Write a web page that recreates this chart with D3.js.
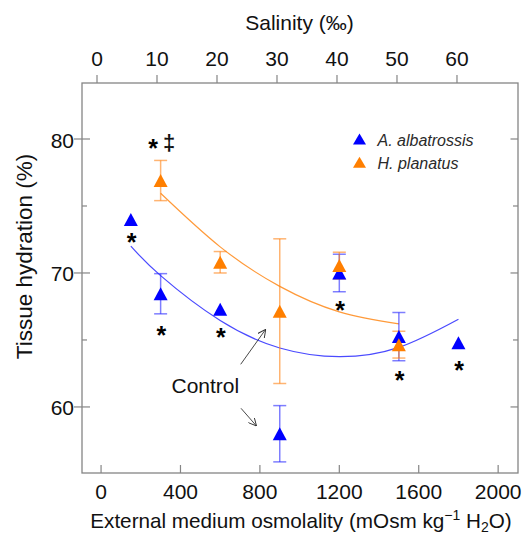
<!DOCTYPE html>
<html><head><meta charset="utf-8">
<script src="https://cdn.jsdelivr.net/npm/d3@7"></script>
<style>body{margin:0;background:#fff}svg{display:block}text{font-family:"Liberation Sans",Arial,sans-serif}</style>
</head><body><svg id="c" width="530" height="533"></svg>
<script>
// ---- data ----
const osmo = [150, 300, 600, 900, 1200, 1500, 1800];
const albMean = [74.0, 68.45, 67.3, 58.0, 70.0, 65.25, 64.8];
const albErr  = [0, 1.5, 0, 2.1, 1.4, 1.8, 0];
const planOsmo = [300, 600, 900, 1200, 1500];
const planMean = [76.9, 70.8, 67.15, 70.55, 64.65];
const planErr  = [1.5, 0.8, 5.4, 1.0, 1.0];
// fitted curves
const albFitX = [150, 300, 600, 900, 1200, 1500, 1800];
const albFitY = [72.0, 69.8, 66.45, 64.4, 63.75, 64.45, 66.55];
const planFitX = [300, 600, 900, 1200, 1500];
const planFitY = [75.95, 71.95, 69.0, 67.1, 66.2];
// significance marks (below blue points)
const albStars = [true, true, true, false, true, true, true];
const xTicks = [0, 400, 800, 1200, 1600, 2000];
const salTicks = [0, 10, 20, 30, 40, 50, 60];
const yMajor = [60, 70, 80];
const yMinor = [65, 75];
const seriesNames = ["A. albatrossis", "H. planatus"];
const colors = ["#0000ff", "#ff7f00"];
const errColors = ["rgba(40,40,255,0.6)", "rgba(255,130,20,0.6)"];
const fitColors = ["#4a4aff", "#ff9a3a"];

// ---- layout ----
const L = 82, R = 518, T = 83, B = 473;
const x = d3.scaleLinear().domain([-96, 2100]).range([L, R]);
const xs = d3.scaleLinear().domain([-2.5, 70.17]).range([L, R]);
const y = d3.scaleLinear().domain([55.07, 84.18]).range([B, T]);
const svg = d3.select("#c");
const axisCol = "#858585";
const fs = 21;

// frame
svg.append("rect").attr("x", L).attr("y", T).attr("width", R - L).attr("height", B - T)
  .attr("fill", "none").attr("stroke", axisCol).attr("stroke-width", 1.3);

// bottom axis ticks (inward)
const gx = svg.append("g");
xTicks.forEach(t => {
  gx.append("line").attr("x1", x(t)).attr("x2", x(t)).attr("y1", B).attr("y2", B - 8).attr("stroke", axisCol).attr("stroke-width", 1.2);
  gx.append("text").attr("x", x(t)).attr("y", 498.5).attr("text-anchor", "middle").attr("font-size", fs).attr("fill", "#111").text(t);
});
// top axis (salinity), ticks outward
salTicks.forEach(t => {
  svg.append("line").attr("x1", xs(t)).attr("x2", xs(t)).attr("y1", T).attr("y2", T - 8).attr("stroke", axisCol).attr("stroke-width", 1.2);
  svg.append("text").attr("x", xs(t)).attr("y", 65.7).attr("text-anchor", "middle").attr("font-size", fs).attr("fill", "#111").text(t);
});
// left and right axis ticks
yMajor.forEach(t => {
  svg.append("line").attr("x1", L - 8).attr("x2", L + 8).attr("y1", y(t)).attr("y2", y(t)).attr("stroke", axisCol).attr("stroke-width", 1.2);
  svg.append("line").attr("x1", R - 7.5).attr("x2", R).attr("y1", y(t)).attr("y2", y(t)).attr("stroke", axisCol).attr("stroke-width", 1.2);
  svg.append("text").attr("x", 74).attr("y", y(t) + 8.5).attr("text-anchor", "end").attr("font-size", fs).attr("fill", "#111").text(t);
});
yMinor.forEach(t => {
  svg.append("line").attr("x1", L).attr("x2", L + 5).attr("y1", y(t)).attr("y2", y(t)).attr("stroke", axisCol).attr("stroke-width", 1.2);
  svg.append("line").attr("x1", R - 5).attr("x2", R).attr("y1", y(t)).attr("y2", y(t)).attr("stroke", axisCol).attr("stroke-width", 1.2);
});

// titles
svg.append("text").attr("x", 299.5).attr("y", 30).attr("text-anchor", "middle").attr("font-size", fs).attr("fill", "#111").text("Salinity (‰)");
const xt = svg.append("text").attr("x", 301).attr("y", 527.5).attr("text-anchor", "middle").attr("font-size", 20.7).attr("fill", "#111");
xt.append("tspan").text("External medium osmolality (mOsm kg");
xt.append("tspan").attr("font-size", 14).attr("dy", -8).text("−1");
xt.append("tspan").attr("dy", 8).text(" H");
xt.append("tspan").attr("font-size", 14).attr("dy", 4).text("2");
xt.append("tspan").attr("dy", -4).text("O)");
svg.append("text").attr("transform", "translate(32,256.5) rotate(-90)").attr("text-anchor", "middle")
  .attr("font-size", 22.5).attr("fill", "#111").text("Tissue hydration (%)");

// fitted curves
const line = d3.line().x(d => x(d[0])).y(d => y(d[1])).curve(d3.curveNatural);
svg.append("path").attr("d", line(albFitX.map((v, i) => [v, albFitY[i]])))
  .attr("fill", "none").attr("stroke", fitColors[0]).attr("stroke-width", 1.2);
svg.append("path").attr("d", line(planFitX.map((v, i) => [v, planFitY[i]])))
  .attr("fill", "none").attr("stroke", fitColors[1]).attr("stroke-width", 1.2);

// error bars
function errBars(xv, mv, ev, col) {
  xv.forEach((xx, i) => {
    if (!ev[i]) return;
    const g = svg.append("g").attr("stroke", col).attr("stroke-width", 1.5);
    g.append("line").attr("x1", x(xx)).attr("x2", x(xx)).attr("y1", y(mv[i] + ev[i])).attr("y2", y(mv[i] - ev[i]));
    [1, -1].forEach(s => g.append("line").attr("x1", x(xx) - 6.5).attr("x2", x(xx) + 6.5)
      .attr("y1", y(mv[i] + s * ev[i])).attr("y2", y(mv[i] + s * ev[i])));
  });
}
errBars(osmo, albMean, albErr, errColors[0]);
errBars(planOsmo, planMean, planErr, errColors[1]);

// triangle markers (bbox-centred)
const tri = (w, h) => `M0,${-h / 2}L${w / 2},${h / 2}L${-w / 2},${h / 2}Z`;
osmo.forEach((xx, i) => svg.append("path").attr("d", tri(14, 13)).attr("fill", colors[0])
  .attr("transform", `translate(${x(xx)},${y(albMean[i])})`));
planOsmo.forEach((xx, i) => svg.append("path").attr("d", tri(14, 13)).attr("fill", colors[1])
  .attr("transform", `translate(${x(xx)},${y(planMean[i])})`));

// asterisks below blue points
const starOff = [17.5, 36, 22.5, 0, 32.5, 38.5, 22.5];
osmo.forEach((xx, i) => {
  if (!albStars[i]) return;
  svg.append("text").attr("x", x(xx) + 0.8).attr("y", y(albMean[i]) + starOff[i] + 14)
    .attr("text-anchor", "middle").attr("font-size", 25).attr("font-weight", "bold").attr("fill", "#000").text("*");
});
// *‡ above orange point at 300
svg.append("text").attr("x", 153).attr("y", y(planMean[0]) - 38 + 14).attr("text-anchor", "middle")
  .attr("font-size", 25).attr("font-weight", "bold").attr("fill", "#000").text("*");
svg.append("text").attr("x", 169).attr("y", 150).attr("text-anchor", "middle")
  .attr("font-size", 22).attr("font-weight", "bold").attr("fill", "#111").text("‡");

// Control annotation
svg.append("text").attr("x", 171.5).attr("y", 392.7).attr("font-size", fs).attr("fill", "#111").text("Control");
svg.append("defs").append("marker").attr("id", "ah").attr("viewBox", "0 0 10 10").attr("refX", 10).attr("refY", 5)
  .attr("markerWidth", 8).attr("markerHeight", 8).attr("markerUnits", "userSpaceOnUse").attr("orient", "auto")
  .append("path").attr("d", "M0,0L10,5L0,10").attr("fill", "none").attr("stroke", "#333").attr("stroke-width", 1.2);
svg.append("line").attr("x1", 240.7).attr("y1", 364.3).attr("x2", 265.7).attr("y2", 329.3)
  .attr("stroke", "#333").attr("stroke-width", 0.9).attr("marker-end", "url(#ah)");
svg.append("line").attr("x1", 241).attr("y1", 408.3).attr("x2", 256.5).attr("y2", 426)
  .attr("stroke", "#333").attr("stroke-width", 0.9).attr("marker-end", "url(#ah)");

// legend
seriesNames.forEach((n, i) => {
  const ly = 139 + i * 23.3;
  svg.append("path").attr("d", tri(13, 11)).attr("fill", colors[i]).attr("transform", `translate(359.5,${ly})`);
  svg.append("text").attr("x", 377.5).attr("y", ly + 6.5).attr("font-size", 16).attr("font-style", "italic")
    .attr("fill", "#2a2a2a").text(n);
});
</script></body></html>
